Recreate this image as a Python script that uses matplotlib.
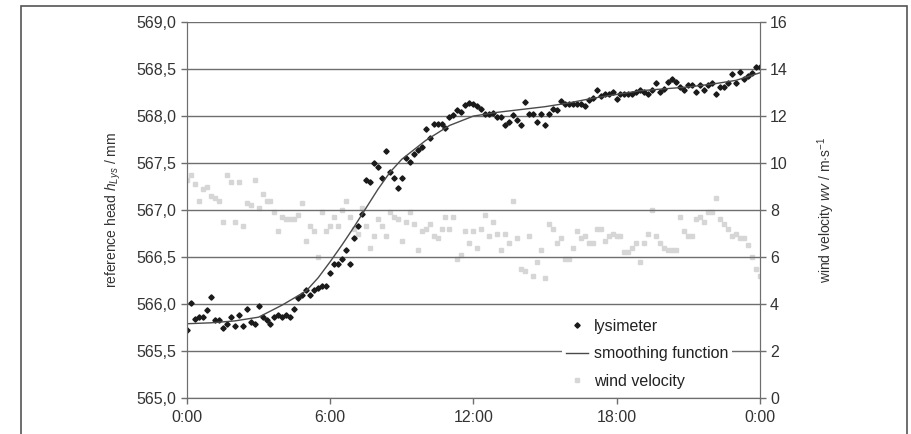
import numpy as np
import matplotlib
matplotlib.use('Agg')
import matplotlib.pyplot as plt
from matplotlib.patches import Rectangle
from matplotlib.ticker import FuncFormatter

plt.rcParams['font.family'] = ['Liberation Sans', 'DejaVu Sans']
plt.rcParams['mathtext.fontset'] = 'custom'
plt.rcParams['mathtext.rm'] = 'Liberation Sans'
plt.rcParams['mathtext.it'] = 'Liberation Sans:italic'

# lysimeter reference head (mm), one reading every 10 minutes, 0:00 .. 24:00
lysimeter = [
    565.72, 566.01, 565.84, 565.86, 565.86, 565.94, 566.07, 565.83, 565.83, 565.74,
    565.79, 565.86, 565.77, 565.88, 565.77, 565.95, 565.81, 565.79, 565.98, 565.86,
    565.83, 565.79, 565.86, 565.88, 565.86, 565.88, 565.86, 565.95, 566.06, 566.10,
    566.15, 566.10, 566.15, 566.17, 566.19, 566.19, 566.33, 566.43, 566.43, 566.48,
    566.58, 566.43, 566.70, 566.83, 566.96, 567.32, 567.30, 567.50, 567.46, 567.34,
    567.63, 567.41, 567.34, 567.24, 567.34, 567.55, 567.51, 567.60, 567.64, 567.67,
    567.86, 567.77, 567.92, 567.92, 567.92, 567.87, 567.99, 568.01, 568.06, 568.04,
    568.12, 568.14, 568.13, 568.11, 568.08, 568.02, 568.02, 568.03, 567.99, 567.99,
    567.91, 567.94, 568.01, 567.96, 567.91, 568.15, 568.02, 568.02, 567.94, 568.02,
    567.91, 568.02, 568.08, 568.06, 568.16, 568.13, 568.13, 568.13, 568.13, 568.13,
    568.11, 568.17, 568.19, 568.28, 568.21, 568.23, 568.23, 568.26, 568.18, 568.23,
    568.23, 568.23, 568.23, 568.26, 568.28, 568.26, 568.23, 568.28, 568.35, 568.26,
    568.29, 568.36, 568.40, 568.36, 568.31, 568.28, 568.33, 568.33, 568.26, 568.33,
    568.28, 568.33, 568.35, 568.23, 568.31, 568.31, 568.35, 568.45, 568.35, 568.47,
    568.40, 568.43, 568.46, 568.52, 568.52,
]

# wind velocity (m/s), same 10-minute steps
wind = [
    9.3, 9.5, 9.1, 8.4, 8.9, 9.0, 8.6, 8.5, 8.4, 7.5,
    9.5, 9.2, 7.5, 9.2, 7.3, 8.3, 8.2, 9.3, 8.1, 8.7,
    8.4, 8.4, 7.9, 7.1, 7.7, 7.6, 7.6, 7.6, 7.8, 8.3,
    6.7, 7.3, 7.1, 6.0, 7.9, 7.1, 7.3, 7.7, 7.3, 8.0,
    8.4, 7.7, 7.2, 7.0, 8.1, 7.3, 6.4, 6.9, 7.6, 7.3,
    6.9, 7.9, 7.7, 7.6, 6.7, 7.5, 7.9, 7.4, 6.3, 7.1,
    7.2, 7.4, 6.9, 6.8, 7.2, 7.7, 7.2, 7.7, 5.9, 6.1,
    7.1, 6.6, 7.1, 6.4, 7.2, 7.8, 6.9, 7.5, 7.0, 6.3,
    7.0, 6.6, 8.4, 6.8, 5.5, 5.4, 6.9, 5.2, 5.8, 6.3,
    5.1, 7.4, 7.2, 6.6, 6.8, 5.9, 5.9, 6.4, 7.1, 6.8,
    6.9, 6.6, 6.6, 7.2, 7.2, 6.7, 6.9, 7.0, 6.9, 6.9,
    6.2, 6.2, 6.4, 6.6, 5.8, 6.6, 7.0, 8.0, 6.9, 6.6,
    6.4, 6.3, 6.3, 6.3, 7.7, 7.1, 6.9, 6.9, 7.6, 7.7,
    7.5, 7.9, 7.9, 8.5, 7.6, 7.4, 7.2, 6.9, 7.0, 6.8,
    6.8, 6.5, 6.0, 5.5, 5.2,
]

# smoothing function
smooth_t = [0, 1, 2, 3, 4, 5, 5.5, 6, 6.5, 7, 7.5, 8, 8.5, 9, 10, 11, 12,
            13, 14, 15, 16, 17, 18, 19, 20, 21, 22, 23, 24]
smooth_h = [565.79, 565.80, 565.82, 565.86, 565.99, 566.14, 566.28, 566.45,
            566.63, 566.82, 567.02, 567.22, 567.40, 567.54, 567.74, 567.90,
            568.00, 568.04, 568.07, 568.10, 568.14, 568.19, 568.23, 568.27,
            568.29, 568.31, 568.34, 568.38, 568.46]

x_ticks = [0, 6, 12, 18, 24]
x_labels = ['0:00', '6:00', '12:00', '18:00', '0:00']

t = np.arange(len(lysimeter)) / 6.0

fig = plt.figure(figsize=(9.12, 4.34), dpi=100)
ax = fig.add_axes([0.205, 0.083, 0.628, 0.866])
ax2 = ax.twinx()

grid_c = '#6e6e6e'
ax.set_ylim(565.0, 569.0)
ax.set_yticks(np.arange(565.0, 569.01, 0.5))
ax.yaxis.set_major_formatter(FuncFormatter(lambda v, p: f'{v:.1f}'.replace('.', ',')))
ax.grid(axis='y', color=grid_c, lw=1)
ax.set_axisbelow(True)
ax.set_xlim(0, 24)
ax.set_xticks(x_ticks)
ax.set_xticklabels(x_labels)

ax2.set_ylim(0, 16)
ax2.set_yticks(range(0, 17, 2))

for a in (ax, ax2):
    a.tick_params(colors='#333333', labelsize=11.5, length=4, width=1, color=grid_c)
    for s in a.spines.values():
        s.set_color(grid_c)
    a.spines['top'].set_visible(False)
ax.tick_params(axis='x', pad=5)

# wind on the secondary axis, drawn behind the lysimeter data
ax.set_zorder(ax2.get_zorder() + 1)
ax.patch.set_visible(False)
hw, = ax2.plot(t, wind, ls='none', marker='s', ms=2.8, color='#d6d6d6',
               label='wind velocity')

hl, = ax.plot(t, lysimeter, ls='none', marker='D', ms=2.7, color='#1a1a1a',
              label='lysimeter')
hs, = ax.plot(smooth_t, smooth_h, color='#4a4a4a', lw=1, label='smoothing function')

ax.set_ylabel('reference head $h_{Lys}$ / mm', fontsize=10, color='#333333', labelpad=10)
ax2.set_ylabel('wind velocity $wv$ / m$\\cdot$s$^{-1}$', fontsize=10, color='#333333',
               labelpad=20)

leg = ax.legend(handles=[hl, hs, hw], loc='upper left',
                bbox_to_anchor=(0.655, 0.222), frameon=True, fontsize=11.5,
                handlelength=1.4, handletextpad=0.35, labelspacing=0.8,
                borderpad=0.25, borderaxespad=0)
leg.get_frame().set_facecolor('white')
leg.get_frame().set_edgecolor('none')
leg.get_frame().set_alpha(1)
for txt in leg.get_texts():
    txt.set_color('#222222')

fig.patches.append(Rectangle((21 / 912, -0.05), (907 - 21) / 912, (434 - 6) / 434 + 0.05,
                             transform=fig.transFigure, fill=False,
                             edgecolor='#555555', lw=1.2))

fig.savefig('out.png', dpi=100)
